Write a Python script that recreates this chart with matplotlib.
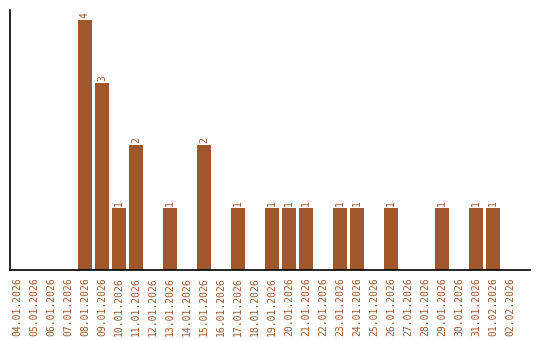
import matplotlib
matplotlib.use("Agg")
import matplotlib.pyplot as plt

dates = ["04.01.2026", "05.01.2026", "06.01.2026", "07.01.2026", "08.01.2026",
         "09.01.2026", "10.01.2026", "11.01.2026", "12.01.2026", "13.01.2026",
         "14.01.2026", "15.01.2026", "16.01.2026", "17.01.2026", "18.01.2026",
         "19.01.2026", "20.01.2026", "21.01.2026", "22.01.2026", "23.01.2026",
         "24.01.2026", "25.01.2026", "26.01.2026", "27.01.2026", "28.01.2026",
         "29.01.2026", "30.01.2026", "31.01.2026", "01.02.2026", "02.02.2026"]
counts = [0, 0, 0, 0, 4, 3, 1, 2, 0, 1, 0, 2, 0, 1, 0, 1, 1, 1, 0, 1, 1, 0, 1, 0, 0, 1, 0, 1, 1, 0]

color = "#A0572B"
fig = plt.figure(figsize=(5.4, 3.4), dpi=100)
ax = fig.add_axes([10/540, 70/340, 520/540, 260/340])
x = list(range(len(dates)))
ax.bar(x, counts, width=14/17, color=color)
for xi, v in zip(x, counts):
    if v > 0:
        ax.text(xi, v + 0.03, str(v), rotation=90, ha="center", va="bottom",
                color=color, fontsize=7, family="DejaVu Sans Mono")
ax.set_xlim(-7/17, 513/17)
ax.set_ylim(0, 4.16)
ax.set_xticks(x)
ax.set_xticklabels(dates, rotation=90, color=color, fontsize=7, family="DejaVu Sans Mono")
ax.tick_params(axis="x", length=0, pad=5)
ax.set_yticks([])
for s in ["top", "right"]:
    ax.spines[s].set_visible(False)
ax.spines["left"].set_linewidth(1.2)
ax.spines["bottom"].set_linewidth(1.2)
fig.savefig("out.png", dpi=100)
